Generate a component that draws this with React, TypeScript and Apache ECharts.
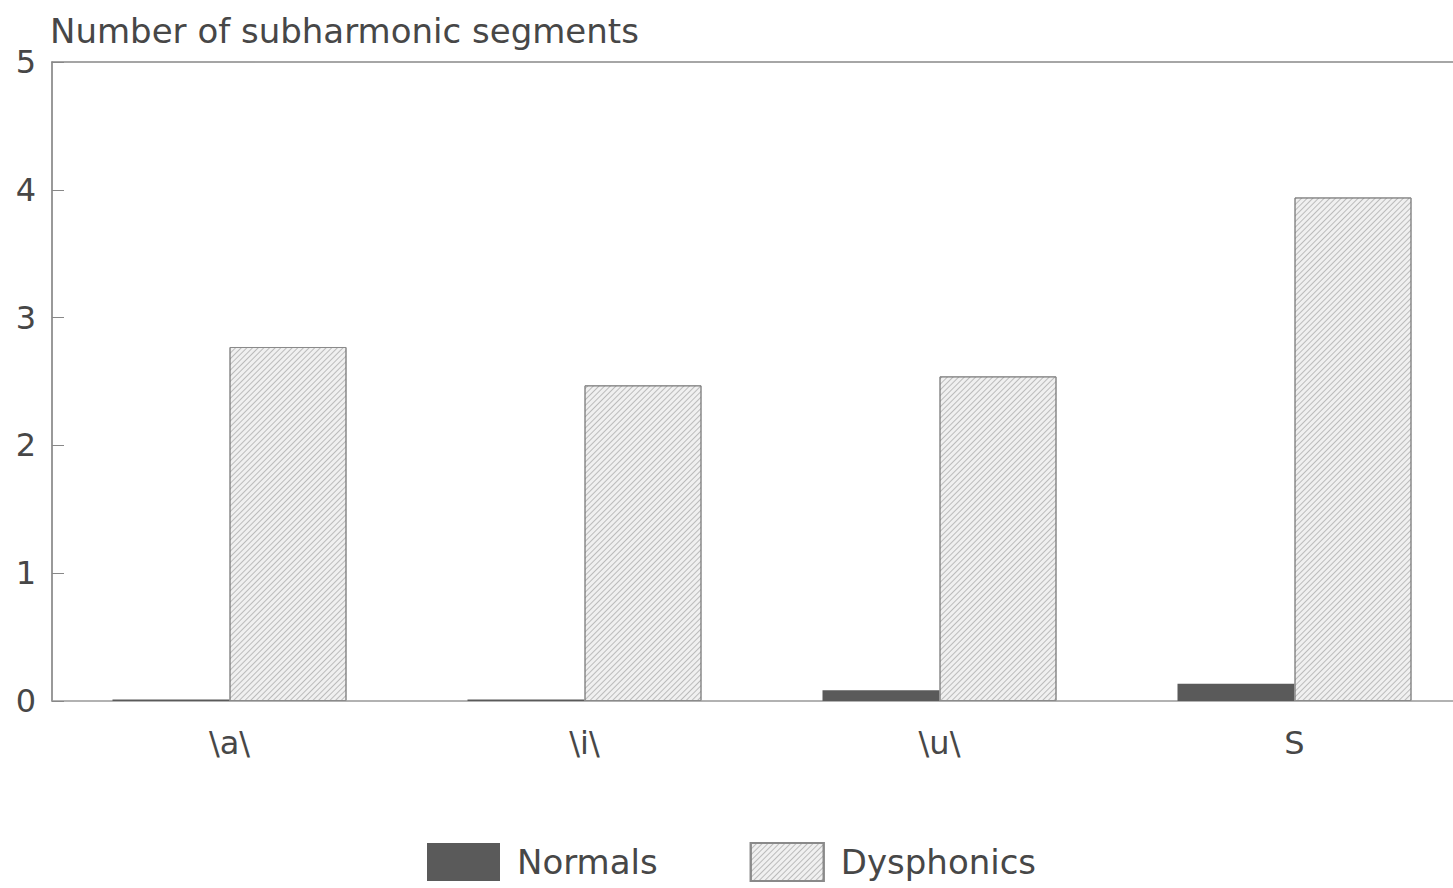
import React, { useEffect, useRef } from "react";
import * as echarts from "echarts";

const categories = ["\\a\\", "\\i\\", "\\u\\", "S"];
const normals = [0.012, 0.012, 0.085, 0.135];
const dysphonics = [2.77, 2.47, 2.54, 3.94];
const yTicks = [0, 1, 2, 3, 4, 5];
const titleText = "Number of subharmonic segments";

const FONT = "DejaVu Sans, Liberation Sans, Arial, sans-serif";
const TEXT = "#474747";

export default function App() {
  const ref = useRef<HTMLDivElement>(null);
  useEffect(() => {
    if (!ref.current) return;
    const chart = echarts.init(ref.current, null, { renderer: "svg" });
    chart.setOption({
      animation: false,
      backgroundColor: "#ffffff",
      title: {
        text: titleText,
        left: 45,
        top: 9,
        textStyle: { fontFamily: FONT, fontSize: 34, fontWeight: "normal", color: TEXT },
      },
      legend: {
        left: 427,
        top: 842,
        padding: 0,
        itemWidth: 73,
        itemHeight: 38,
        itemGap: 92,
        icon: "rect",
        textStyle: { fontFamily: FONT, fontSize: 34, color: TEXT, padding: [4, 0, 0, 12] },
        data: ["Normals", "Dysphonics"],
      },
      grid: { left: 52, top: 62, width: 1420, height: 639, outerBoundsMode: "none", containLabel: false },
      xAxis: [
        {
          type: "category",
          data: categories,
          position: "bottom",
          axisLine: { lineStyle: { color: "#999", width: 1.5 } },
          axisTick: { show: false },
          axisLabel: { fontFamily: FONT, fontSize: 32, color: TEXT, margin: 26 },
        },
        {
          type: "category",
          data: categories,
          position: "top",
          axisLine: { show: true, lineStyle: { color: "#888", width: 1.5 } },
          axisTick: { show: false },
          axisLabel: { show: false },
        },
      ],
      yAxis: {
        type: "value",
        min: yTicks[0],
        max: yTicks[yTicks.length - 1],
        interval: 1,
        axisLine: { show: true, lineStyle: { color: "#777", width: 1.5 } },
        axisTick: { show: true, inside: true, length: 12, lineStyle: { color: "#888" } },
        splitLine: { show: false },
        axisLabel: { fontFamily: FONT, fontSize: 32, color: TEXT, margin: 16 },
      },
      series: [
        {
          name: "Normals",
          type: "bar",
          data: normals,
          barWidth: 117,
          barGap: "0%",
          itemStyle: { color: "#5a5a5a" },
        },
        {
          name: "Dysphonics",
          type: "bar",
          data: dysphonics,
          barWidth: 117,
          barGap: "0%",
          itemStyle: {
            color: "#f0f0f0",
            borderColor: "#8a8a8a",
            borderWidth: 1,
            decal: {
              symbol: "rect",
              symbolSize: 1,
              color: "rgba(0,0,0,0.22)",
              dashArrayX: [1, 0],
              dashArrayY: [1, 3],
              rotation: -Math.PI / 4,
            },
          },
        },
      ],
    });
    return () => chart.dispose();
  }, []);
  return (
    <div
      ref={ref}
      style={{ position: "absolute", left: 0, top: 0, width: 1453, height: 888 }}
    />
  );
}
